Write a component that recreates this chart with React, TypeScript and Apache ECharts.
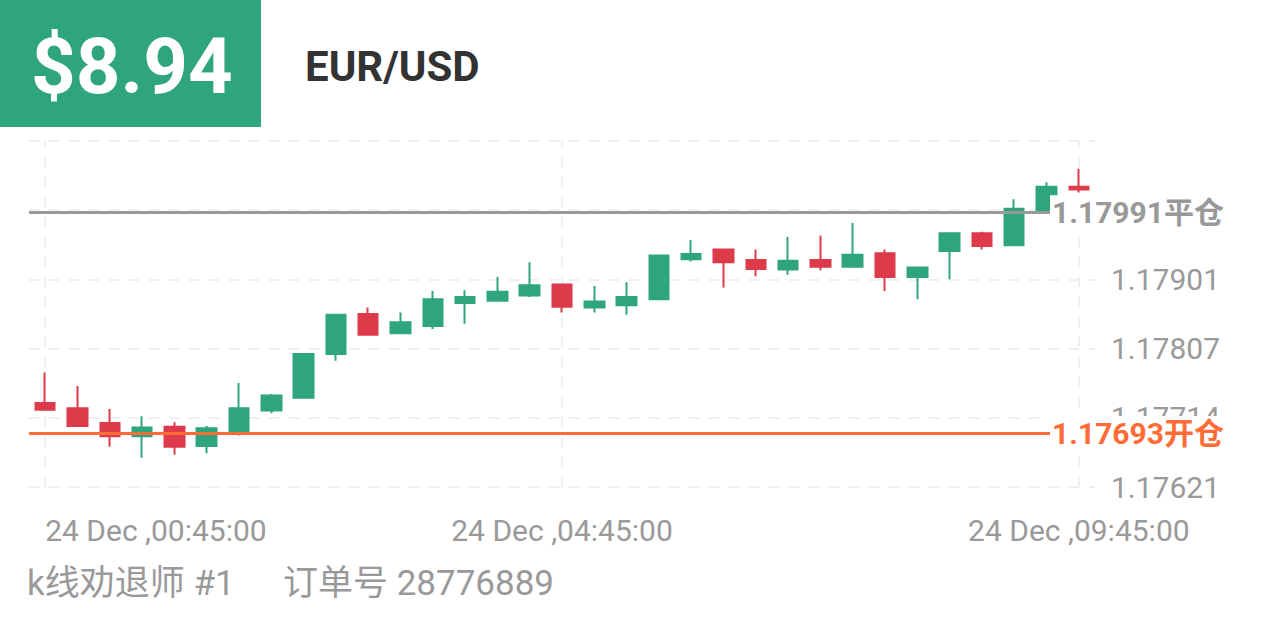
import React, { useEffect, useRef } from 'react';
import * as echarts from 'echarts';

// ---- data ----
const categories = [
  '24 Dec ,00:45:00', '24 Dec ,01:00:00', '24 Dec ,01:15:00', '24 Dec ,01:30:00',
  '24 Dec ,01:45:00', '24 Dec ,02:00:00', '24 Dec ,02:15:00', '24 Dec ,02:30:00',
  '24 Dec ,02:45:00', '24 Dec ,03:00:00', '24 Dec ,03:15:00', '24 Dec ,03:30:00',
  '24 Dec ,03:45:00', '24 Dec ,04:00:00', '24 Dec ,04:15:00', '24 Dec ,04:30:00',
  '24 Dec ,04:45:00', '24 Dec ,05:00:00', '24 Dec ,05:15:00', '24 Dec ,05:30:00',
  '24 Dec ,05:45:00', '24 Dec ,06:00:00', '24 Dec ,06:15:00', '24 Dec ,06:30:00',
  '24 Dec ,06:45:00', '24 Dec ,07:00:00', '24 Dec ,07:15:00', '24 Dec ,07:30:00',
  '24 Dec ,08:45:00', '24 Dec ,09:00:00', '24 Dec ,09:15:00', '24 Dec ,09:30:00',
  '24 Dec ,09:45:00',
];
const openPrices = [
  1.17734, 1.17727, 1.17707, 1.17689, 1.17702, 1.17676, 1.17693, 1.17724,
  1.17741, 1.17800, 1.17854, 1.17828, 1.17838, 1.17869, 1.17872, 1.17879,
  1.17894, 1.17863, 1.17866, 1.17874, 1.17928, 1.17941, 1.17927, 1.17914,
  1.17927, 1.17918, 1.17936, 1.17904, 1.17939, 1.17963, 1.17947, 1.17992,
  1.18026,
];
const closePrices = [
  1.17725, 1.17703, 1.17689, 1.17701, 1.17675, 1.17700, 1.17727, 1.17744,
  1.17800, 1.17853, 1.17826, 1.17843, 1.17874, 1.17877, 1.17884, 1.17893,
  1.17864, 1.17871, 1.17877, 1.17933, 1.17935, 1.17924, 1.17915, 1.17926,
  1.17918, 1.17934, 1.17904, 1.17917, 1.17963, 1.17946, 1.17996, 1.18026,
  1.18022,
];
const lowPrices = [
  1.17724, 1.17702, 1.17675, 1.17660, 1.17664, 1.17666, 1.17690, 1.17720,
  1.17741, 1.17791, 1.17826, 1.17828, 1.17834, 1.17841, 1.17872, 1.17877,
  1.17856, 1.17856, 1.17853, 1.17874, 1.17925, 1.17890, 1.17905, 1.17907,
  1.17913, 1.17918, 1.17885, 1.17874, 1.17901, 1.17941, 1.17947, 1.17989,
  1.18018,
];
const highPrices = [
  1.17775, 1.17757, 1.17726, 1.17716, 1.17708, 1.17703, 1.17761, 1.17746,
  1.17801, 1.17853, 1.17863, 1.17856, 1.17885, 1.17886, 1.17904, 1.17924,
  1.17894, 1.17892, 1.17897, 1.17934, 1.17954, 1.17941, 1.17941, 1.17958,
  1.17960, 1.17977, 1.17941, 1.17917, 1.17963, 1.17965, 1.18009, 1.18032,
  1.18050,
];
const axisBase = 1.176206; // lowest tick label 1.17621
const axisStep = 0.000934; // spacing between tick labels
const hiddenTickSteps = [4, 5]; // tick rows whose label the reference does not show
const openLine = 1.17693;
const closeLine = 1.17991;
const guideIndices = [0, 16, 32];
const priceText = '$8.94';
const symbolText = 'EUR/USD';
const footerLeft = 'k线劝退师 #1';
const footerRight = '订单号 28776889';

const GREEN = '#2EA57B';
const RED = '#DD3B4A';
const ORANGE = '#FF6C37';
const GRAY = '#999999';
const FONT = 'Roboto, "Noto Sans CJK SC", sans-serif';

const toAxis = (p: number) => (p - axisBase) / axisStep;

export default function App() {
  const ref = useRef<HTMLDivElement>(null);
  useEffect(() => {
    if (!ref.current) return;
    const chart = echarts.init(ref.current, undefined, { renderer: 'svg' });
    const candleData = categories.map((_, i) => [
      toAxis(openPrices[i]),
      toAxis(closePrices[i]),
      toAxis(lowPrices[i]),
      toAxis(highPrices[i]),
    ]);
    const priceLabel = {
      show: true,
      position: 'end',
      distance: -45,
      backgroundColor: '#ffffff',
      padding: [2, 2],
      fontSize: 30,
      fontWeight: 'bold',
      fontFamily: FONT,
    };
    chart.setOption({
      animation: false,
      backgroundColor: '#ffffff',
      textStyle: { fontFamily: FONT },
      grid: { left: 29, right: 171, top: 141, bottom: 146 },
      xAxis: {
        type: 'category',
        data: categories,
        boundaryGap: true,
        axisLine: { show: false },
        axisTick: { show: false },
        splitLine: { show: false },
        axisLabel: {
          interval: 15,
          color: GRAY,
          fontSize: 30,
          fontFamily: FONT,
          margin: 28,
          alignMinLabel: 'left',
        },
      },
      yAxis: {
        type: 'value',
        position: 'right',
        min: 0,
        max: 5,
        interval: 1,
        axisLine: { show: false },
        axisTick: { show: false },
        splitLine: { show: true, lineStyle: { color: '#EFEFEF', width: 2, type: [10, 10] } },
        axisLabel: {
          showMaxLabel: false,
          align: 'right',
          margin: 125,
          color: GRAY,
          fontSize: 30,
          fontFamily: FONT,
          formatter: (v: number) =>
            hiddenTickSteps.includes(Math.round(v)) ? '' : (axisBase + v * axisStep).toFixed(5),
        },
      },
      series: [
        {
          type: 'line',
          data: [],
          silent: true,
          markLine: {
            z: 1,
            silent: true,
            symbol: 'none',
            label: { show: false },
            lineStyle: { color: '#EFEFEF', width: 2, type: [10, 10] },
            data: guideIndices.map((i) => ({ xAxis: categories[i] })),
          },
        },
        {
          type: 'candlestick',
          data: candleData,
          barWidth: 20,
          itemStyle: {
            color: GREEN,
            color0: RED,
            borderColor: GREEN,
            borderColor0: RED,
            borderWidth: 2,
          },
          markLine: {
            silent: true,
            symbol: 'none',
            data: [
              {
                yAxis: toAxis(closeLine),
                lineStyle: { color: GRAY, width: 3, type: 'solid' },
                label: { ...priceLabel, color: GRAY, formatter: closeLine.toFixed(5) + '平仓' },
              },
              {
                yAxis: toAxis(openLine),
                lineStyle: { color: ORANGE, width: 3, type: 'solid' },
                label: { ...priceLabel, color: ORANGE, formatter: openLine.toFixed(5) + '开仓' },
              },
            ],
          },
        },
      ],
      graphic: [
        { type: 'rect', left: 0, top: 0, shape: { width: 261, height: 127 }, style: { fill: GREEN } },
        {
          type: 'text', x: 31, y: 66,
          style: { text: priceText, fill: '#ffffff', font: `bold 78px ${FONT}`, verticalAlign: 'middle', align: 'left' },
        },
        {
          type: 'text', x: 305, y: 66,
          style: { text: symbolText, fill: '#333333', font: `bold 42px ${FONT}`, verticalAlign: 'middle', align: 'left' },
        },
        {
          type: 'text', x: 27, y: 583,
          style: { text: footerLeft, fill: GRAY, font: `35px ${FONT}`, verticalAlign: 'middle', align: 'left' },
        },
        {
          type: 'text', x: 283, y: 583,
          style: { text: footerRight, fill: GRAY, font: `35px ${FONT}`, verticalAlign: 'middle', align: 'left' },
        },
      ],
    });
    return () => chart.dispose();
  }, []);
  return (
    <div
      ref={ref}
      style={{ position: 'absolute', left: 0, top: 0, width: 1266, height: 633, background: '#fff' }}
    />
  );
}
